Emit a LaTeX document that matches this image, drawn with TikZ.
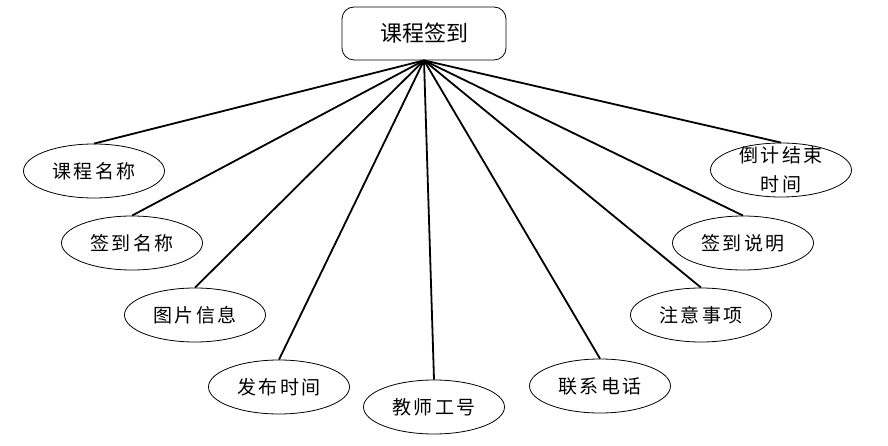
\documentclass[tikz,border=0pt]{standalone}
\usepackage{fontspec}
\newfontfamily\cjk{Noto Sans CJK SC}
\newfontfamily\cjkwide[LetterSpace=14]{Noto Sans CJK SC}
\usetikzlibrary{shapes.geometric}

\begin{document}
\begin{tikzpicture}[
    x=1pt, y=-1pt,
    entity/.style={
      draw,
      rounded corners=12pt,
      line width=0.8pt,
      minimum width=164pt,
      minimum height=53pt,
      font=\cjk\fontsize{22}{26}\selectfont
    },
    attr/.style={
      draw,
      ellipse,
      line width=0.8pt,
      inner sep=0pt,
      minimum width=141pt,
      minimum height=54pt,
      align=center,
      font=\cjkwide\fontsize{19}{29}\selectfont
    },
    link/.style={line width=1.8pt}
  ]
    \useasboundingbox (0,0) rectangle (888,446);

    \node[entity] (checkin) at (424,33.5) {课程签到};

    \node[attr] (course) at (94,171) {课程名称};
    \node[attr] (signname) at (132,243) {签到名称};
    \node[attr] (picture) at (195,315) {图片信息};
    \node[attr] (pubtime) at (279,387) {发布时间};
    \node[attr] (teacher) at (434,407) {教师工号};
    \node[attr] (phone) at (600,386) {联系电话};
    \node[attr] (notes) at (701,315) {注意事项};
    \node[attr] (desc) at (743,243) {签到说明};
    \node[attr, inner ysep=-7pt] (countdown) at (781,170) {倒计结束\\时间};

    \draw[link] (checkin.south) -- (course.north);
    \draw[link] (checkin.south) -- (signname.north);
    \draw[link] (checkin.south) -- (picture.north);
    \draw[link] (checkin.south) -- (pubtime.north);
    \draw[link] (checkin.south) -- (teacher.north);
    \draw[link] (checkin.south) -- (phone.north);
    \draw[link] (checkin.south) -- (notes.north);
    \draw[link] (checkin.south) -- (desc.north);
    \draw[link] (checkin.south) -- (countdown.north);
  \end{tikzpicture}
\end{document}
